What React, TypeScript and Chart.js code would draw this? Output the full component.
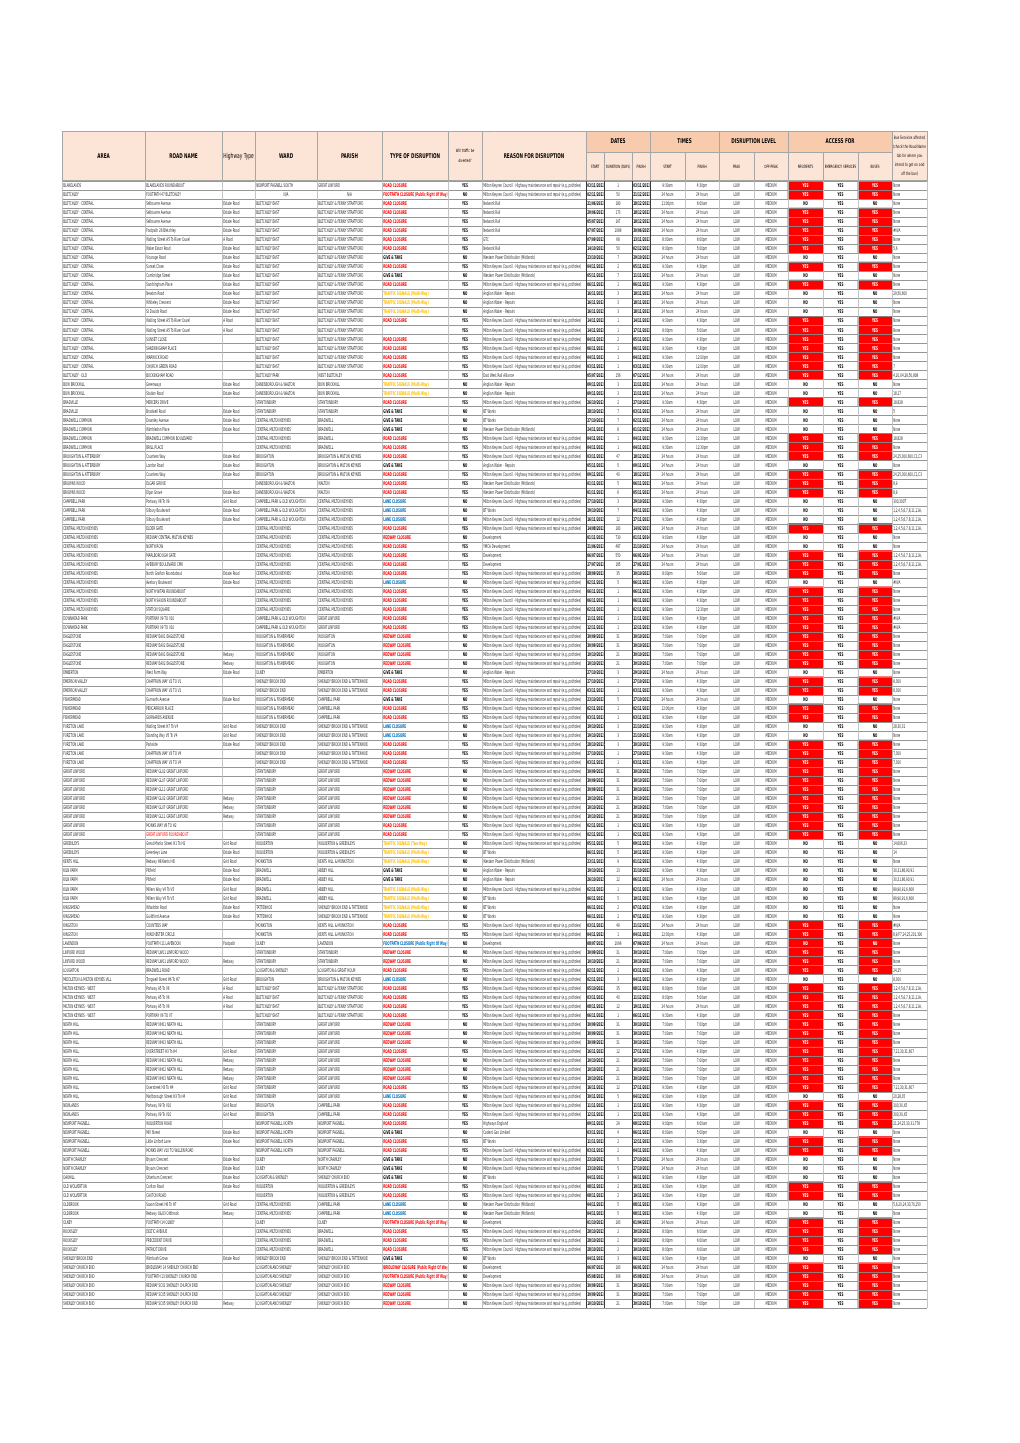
import React, { useEffect, useRef } from "react";
import { Chart, registerables } from "chart.js";

Chart.register(...registerables);

// ---------- repeated text values ----------
const MKC = "Milton Keynes Council - Highway maintenance and repair (e.g. potholes)";
const NR = "Network Rail";
const AW = "Anglian Water - Repairs";
const WPD = "Western Power Distribution (Midlands)";
const BT = "BT Works";
const DEV = "Development";

const RC = "ROAD CLOSURE";
const FC = "FOOTPATH CLOSURE (Public Right Of Way)";
const BWC = "BRIDLEWAY CLOSURE (Public Right Of Way)";
const RW = "REDWAY CLOSURE";
const LC = "LANE CLOSURE";
const TS = "TRAFFIC SIGNALS (Multi-Way)";
const T2 = "TRAFFIC SIGNALS (Two-Way)";
const GT = "GIVE & TAKE";

const E = "Estate Road";
const AR = "A Road";
const GR = "Grid Road";
const RD = "Redway";

const A_BC = "BLETCHLEY - CENTRAL";
const A_CMK = "CENTRAL MILTON KEYNES";

const W_BE = "BLETCHLEY EAST";
const W_DW = "DANESBOROUGH & WALTON";
const W_ST = "STANTONBURY";
const W_BR = "BROUGHTON";
const W_CP = "CAMPBELL PARK & OLD WOUGHTON";
const W_WF = "WOUGHTON & FISHERMEAD";
const W_OL = "OLNEY";
const W_SBE = "SHENLEY BROOK END";
const W_WO = "WOLVERTON";
const W_MO = "MONKSTON";
const W_BRA = "BRADWELL";
const W_TA = "TATTENHOE";
const W_LS = "LOUGHTON & SHENLEY";
const W_NPN = "NEWPORT PAGNELL NORTH";
const W_LAS = "LOUGHTON AND SHENLEY";

const P_BFS = "BLETCHLEY & FENNY STRATFORD";
const P_GL = "GREAT LINFORD";
const P_BMK = "BROUGHTON & MILTON KEYNES";
const P_SBET = "SHENLEY BROOK END & TATTENHOE";
const P_CP = "CAMPBELL PARK";
const P_WG = "WOLVERTON & GREENLEYS";
const P_KHM = "KENTS HILL & MONKSTON";
const P_SCE = "SHENLEY CHURCH END";
const P_BRA = "BRADWELL";

const L1 = "1,2,4,5,6,7,8,11,11A,";

// ---------- data columns ----------
const areas: string[] = [
  "BLAKELANDS", "BLETCHLEY", // 0-1
  A_BC, A_BC, A_BC, A_BC, A_BC, A_BC, A_BC, A_BC, A_BC, A_BC, // 2-11
  A_BC, A_BC, A_BC, A_BC, A_BC, A_BC, A_BC, A_BC, A_BC, // 12-20
  "BLETCHLEY - OLD", "BOW BRICKHILL", "BOW BRICKHILL", "BRADVILLE", "BRADVILLE", // 21-25
  "BRADWELL COMMON", "BRADWELL COMMON", "BRADWELL COMMON", "BRADWELL COMMON", // 26-29
  "BROUGHTON & ATTERBURY", "BROUGHTON & ATTERBURY", "BROUGHTON & ATTERBURY", // 30-32
  "BROWNS WOOD", "BROWNS WOOD", "CAMPBELL PARK", "CAMPBELL PARK", "CAMPBELL PARK", // 33-37
  A_CMK, A_CMK, A_CMK, A_CMK, A_CMK, A_CMK, A_CMK, A_CMK, A_CMK, A_CMK, // 38-47
  "DOWNHEAD PARK", "DOWNHEAD PARK", // 48-49
  "EAGLESTONE", "EAGLESTONE", "EAGLESTONE", "EAGLESTONE", "EMBERTON", // 50-54
  "EMERSON VALLEY", "EMERSON VALLEY", "FISHERMEAD", "FISHERMEAD", "FISHERMEAD", // 55-59
  "FURZTON LAKE", "FURZTON LAKE", "FURZTON LAKE", "FURZTON LAKE", "FURZTON LAKE", // 60-64
  "GREAT LINFORD", "GREAT LINFORD", "GREAT LINFORD", "GREAT LINFORD", // 65-68
  "GREAT LINFORD", "GREAT LINFORD", "GREAT LINFORD", "GREAT LINFORD", // 69-72
  "GREENLEYS", "GREENLEYS", "KENTS HILL", // 73-75
  "KILN FARM", "KILN FARM", "KILN FARM", "KILN FARM", // 76-79
  "KINGSMEAD", "KINGSMEAD", "KINGSTON", "KINGSTON", "LAVENDON", // 80-84
  "LINFORD WOOD", "LINFORD WOOD", "LOUGHTON", "MIDDLETON & MILTON KEYNES VILL", // 85-88
  "MILTON KEYNES - WEST", "MILTON KEYNES - WEST", "MILTON KEYNES - WEST", "MILTON KEYNES - WEST", // 89-92
  "NEATH HILL", "NEATH HILL", "NEATH HILL", "NEATH HILL", "NEATH HILL", // 93-97
  "NEATH HILL", "NEATH HILL", "NEATH HILL", "NEATH HILL", // 98-101
  "NEWLANDS", "NEWLANDS", // 102-103
  "NEWPORT PAGNELL", "NEWPORT PAGNELL", "NEWPORT PAGNELL", "NEWPORT PAGNELL", // 104-107
  "NORTH CRAWLEY", "NORTH CRAWLEY", "OAKHILL", "OLD WOLVERTON", "OLD WOLVERTON", // 108-112
  "OLDBROOK", "OLDBROOK", "OLNEY", "ROOKSLEY", "ROOKSLEY", "ROOKSLEY", // 113-118
  "SHENLEY BROOK END", // 119
  "SHENLEY CHURCH END", "SHENLEY CHURCH END", "SHENLEY CHURCH END", "SHENLEY CHURCH END", "SHENLEY CHURCH END", // 120-124
];

const roadNames: string[] = [
  "BLAKELANDS ROUNDABOUT", "FOOTPATH 47 BLETCHLEY", "Selbourne Avenue", "Selbourne Avenue", "Selbourne Avenue", // 0-4
  "Footpath 26 Bletchley", "Watling Street A5 To River Ouzel", "Water Eaton Road", "Vicarage Road", "Sunset Close", // 5-9
  "Cambridge Street", "Sandringham Place", "Newton Road", "Whiteley Crescent", "St Davids Road", // 10-14
  "Watling Street A5 To River Ouzel", "Watling Street A5 To River Ouzel", "SUNSET CLOSE", "SANDRINGHAM PLACE", "WARWICK ROAD", // 15-19
  "CHURCH GREEN ROAD", "BUCKINGHAM ROAD", "Greenways", "Station Road", "MERCERS DRIVE", // 20-24
  "Bradwell Road", "Downley Avenue", "Wimbledon Place", "BRADWELL COMMON BOULEVARD", "BRILL PLACE", // 25-29
  "Countess Way", "London Road", "Countess Way", "ELGAR GROVE", "Elgar Grove", // 30-34
  "Portway V8 To V9", "Silbury Boulevard", "Silbury Boulevard", "ELDER GATE", "REDWAY CENTRAL MILTON KEYNES", // 35-39
  "NORTH ROW", "MARLBOROUGH GATE", "AVEBURY BOULEVARD CMK", "North Grafton Roundabout", "Avebury Boulevard", // 40-44
  "NORTH WITAN ROUNDABOUT", "NORTH SAXON ROUNDABOUT", "STATION SQUARE", "PORTWAY V9 TO V10", "PORTWAY V9 TO V10", // 45-49
  "REDWAY EA01 EAGLESTONE", "REDWAY EA02 EAGLESTONE", "REDWAY EA01 EAGLESTONE", "REDWAY EA02 EAGLESTONE", "West Farm Way", // 50-54
  "CHAFFRON WAY V2 TO V1", "CHAFFRON WAY V2 TO V1", "Gurnards Avenue", "PENCARROW PLACE", "GURNARDS AVENUE", // 55-59
  "Watling Street H7 To V4", "Standing Way V5 To V4", "Parkside", "CHAFFRON WAY V3 TO V4", "CHAFFRON WAY V3 TO V4", // 60-64
  "REDWAY GL02 GREAT LINFORD", "REDWAY GL07 GREAT LINFORD", "REDWAY GL11 GREAT LINFORD", "REDWAY GL02 GREAT LINFORD", "REDWAY GL07 GREAT LINFORD", // 65-69
  "REDWAY GL11 GREAT LINFORD", "MONKS WAY V8 TO H2", "GREAT LINFORD ROUNDABOUT", "Great Monks Street H1 To H2", "Greenleys Lane", // 70-74
  "Redway H8 Kents Hill", "Pitfield", "Pitfield", "Millers Way V4 To V5", "Millers Way V4 To V5", // 75-79
  "Whaddon Road", "Guildford Avenue", "COUNTESS WAY", "WINCHESTER CIRCLE", "FOOTPATH 11 LAVENDON", // 80-84
  "REDWAY LW01 LINFORD WOOD", "REDWAY LW01 LINFORD WOOD", "BRADWELL ROAD", "Tongwell Street H6 To H7", "Portway A5 To V6", // 85-89
  "Portway A5 To V6", "Portway A5 To V6", "PORTWAY V6 TO V7", "REDWAY NH01 NEATH HILL", "REDWAY NH02 NEATH HILL", // 90-94
  "REDWAY NH03 NEATH HILL", "OVERSTREET H3 To H4", "REDWAY NH01 NEATH HILL", "REDWAY NH02 NEATH HILL", "REDWAY NH03 NEATH HILL", // 95-99
  "Overstreet H3 To H4", "Marlborough Street H3 To H4", "Portway V9 To V10", "Portway V9 To V10", "WOLVERTON ROAD", // 100-104
  "Mill Street", "Little Linford Lane", "MONKS WAY V10 TO WILLEN ROAD", "Bryans Crescent", "Bryans Crescent", // 105-109
  "Otterburn Crescent", "Carlton Road", "CAXTON ROAD", "Saxon Street H6 To H7", "Redway O&O3 Oldbrook", // 110-114
  "FOOTPATH 14 OLNEY", "DELTIC AVENUE", "PRECEDENT DRIVE", "PATRIOT DRIVE", "Wimbush Grove", // 115-119
  "BRIDLEWAY 14 SHENLEY CHURCH END", "FOOTPATH 13 SHENLEY CHURCH END", "REDWAY SC01 SHENLEY CHURCH END", "REDWAY SC05 SHENLEY CHURCH END", "REDWAY SC05 SHENLEY CHURCH END", // 120-124
];

const highwayTypes: string[] = [
  "", "", E, E, E, E, AR, E, E, E, // 0-9
  E, E, E, E, E, AR, AR, "", "", "", // 10-19
  "", "", E, E, "", E, E, E, "", "", // 20-29
  E, E, E, "", E, GR, E, E, "", "", // 30-39
  "", "", "", E, E, "", "", "", "", "", // 40-49
  "", "", RD, RD, E, "", "", E, "", "", // 50-59
  GR, GR, E, "", "", "", "", "", RD, RD, // 60-69
  RD, "", "", GR, E, GR, E, E, GR, GR, // 70-79
  E, E, "", "", "Footpath", "", RD, "", GR, AR, // 80-89
  AR, AR, "", "", "", "", GR, RD, RD, RD, // 90-99
  GR, GR, GR, GR, "", E, E, "", E, E, // 100-109
  E, E, "", GR, RD, "", "", "", "", E, // 110-119
  "", "", "", "", RD, // 120-124
];

const wards: string[] = [
  "NEWPORT PAGNELL SOUTH", "N/A", // 0-1
  W_BE, W_BE, W_BE, W_BE, W_BE, W_BE, W_BE, W_BE, W_BE, W_BE, // 2-11
  W_BE, W_BE, W_BE, W_BE, W_BE, W_BE, W_BE, W_BE, W_BE, // 12-20
  "BLETCHLEY PARK", W_DW, W_DW, W_ST, W_ST, // 21-25
  A_CMK, A_CMK, A_CMK, A_CMK, W_BR, W_BR, W_BR, W_DW, W_DW, // 26-34
  W_CP, W_CP, W_CP, // 35-37
  A_CMK, A_CMK, A_CMK, A_CMK, A_CMK, A_CMK, A_CMK, A_CMK, A_CMK, A_CMK, // 38-47
  W_CP, W_CP, W_WF, W_WF, W_WF, W_WF, W_OL, W_SBE, W_SBE, W_WF, W_WF, W_WF, // 48-59
  W_SBE, W_SBE, W_SBE, W_SBE, W_SBE, // 60-64
  W_ST, W_ST, W_ST, W_ST, W_ST, W_ST, W_ST, W_ST, // 65-72
  W_WO, W_WO, W_MO, W_BRA, W_BRA, W_BRA, W_BRA, W_TA, W_TA, W_MO, W_MO, W_OL, // 73-84
  W_ST, W_ST, W_LS, W_BR, W_BE, W_BE, W_BE, W_BE, // 85-92
  W_ST, W_ST, W_ST, W_ST, W_ST, W_ST, W_ST, W_ST, W_ST, // 93-101
  W_BR, W_BR, W_NPN, W_NPN, W_NPN, W_NPN, W_OL, W_OL, W_LS, W_WO, W_WO, // 102-112
  A_CMK, A_CMK, W_OL, A_CMK, A_CMK, A_CMK, W_SBE, // 113-119
  W_LAS, W_LAS, W_LAS, W_LAS, W_LAS, // 120-124
];

const parishes: string[] = [
  P_GL, "N/A", // 0-1
  P_BFS, P_BFS, P_BFS, P_BFS, P_BFS, P_BFS, P_BFS, P_BFS, P_BFS, P_BFS, // 2-11
  P_BFS, P_BFS, P_BFS, P_BFS, P_BFS, P_BFS, P_BFS, P_BFS, P_BFS, // 12-20
  "WEST BLETCHLEY", "BOW BRICKHILL", "BOW BRICKHILL", "STANTONBURY", "STANTONBURY", // 21-25
  P_BRA, P_BRA, P_BRA, P_BRA, P_BMK, P_BMK, P_BMK, "WALTON", "WALTON", // 26-34
  A_CMK, A_CMK, A_CMK, // 35-37
  A_CMK, A_CMK, A_CMK, A_CMK, A_CMK, A_CMK, A_CMK, A_CMK, A_CMK, A_CMK, // 38-47
  P_GL, P_GL, "WOUGHTON", "WOUGHTON", "WOUGHTON", "WOUGHTON", "EMBERTON", P_SBET, P_SBET, P_CP, P_CP, P_CP, // 48-59
  P_SBET, P_SBET, P_SBET, P_SBET, P_SBET, // 60-64
  P_GL, P_GL, P_GL, P_GL, P_GL, P_GL, P_GL, P_GL, // 65-72
  P_WG, P_WG, P_KHM, "ABBEY HILL", "ABBEY HILL", "ABBEY HILL", "ABBEY HILL", P_SBET, P_SBET, P_KHM, P_KHM, "LAVENDON", // 73-84
  "STANTONBURY", "STANTONBURY", "LOUGHTON & GREAT HOLM", P_BMK, P_BFS, P_BFS, P_BFS, P_BFS, // 85-92
  P_GL, P_GL, P_GL, P_GL, P_GL, P_GL, P_GL, P_GL, P_GL, // 93-101
  P_CP, P_CP, "NEWPORT PAGNELL", "NEWPORT PAGNELL", "NEWPORT PAGNELL", "NEWPORT PAGNELL", // 102-107
  "NORTH CRAWLEY", "NORTH CRAWLEY", P_SCE, P_WG, P_WG, // 108-112
  P_CP, P_CP, "OLNEY", P_BRA, P_BRA, P_BRA, P_SBET, // 113-119
  P_SCE, P_SCE, P_SCE, P_SCE, P_SCE, // 120-124
];

const disruptionTypes: string[] = [
  RC, FC, RC, RC, RC, RC, RC, RC, GT, RC, // 0-9
  GT, RC, TS, TS, TS, RC, "", RC, RC, RC, // 10-19
  RC, RC, TS, TS, RC, GT, GT, GT, RC, RC, // 20-29
  RC, GT, RC, RC, RC, LC, LC, LC, RC, RW, // 30-39
  RC, RC, RC, RC, LC, RC, RC, RC, RC, RC, // 40-49
  RW, RW, RW, RW, GT, RC, RC, GT, RC, RC, // 50-59
  LC, LC, RC, RC, RC, RW, RW, RW, RW, RW, // 60-69
  RW, RC, RC, T2, TS, TS, GT, GT, TS, TS, // 70-79
  TS, TS, RC, RC, FC, RW, RW, RC, LC, RC, // 80-89
  RC, RC, RC, RW, RW, RW, RC, RW, RW, RW, // 90-99
  RC, LC, RC, RC, RC, GT, RC, RC, GT, GT, // 100-109
  GT, RC, RC, LC, LC, FC, RC, RC, RC, GT, // 110-119
  BWC, FC, RW, RW, RW, // 120-124
];

const divertedCode =
  "YNYYYYYYNY" + "NYNNNYYYYY" + "YYNNYNNNYY" + "YNYYYNNNYN" + "YYYYNYYYYY" + "NNNNNYYNYY" +
  "NNYYYNNNNN" + "NYYNNNNNNN" + "NNYYNNNYNY" + "YYYNNNYNNN" + "YNYYYNYYNN" + "NYYNNNYYYN" + "NNNNN";
const trafficDiverted: string[] = [...divertedCode].map((c) => (c === "Y" ? "YES" : "NO"));

const reasons: string[] = [
  MKC, MKC, NR, NR, NR, NR, "GTC", NR, WPD, MKC, // 0-9
  WPD, MKC, AW, AW, AW, MKC, MKC, MKC, MKC, MKC, // 10-19
  MKC, "East West Rail Alliance", AW, AW, MKC, BT, BT, WPD, MKC, MKC, // 20-29
  MKC, AW, MKC, WPD, WPD, MKC, BT, MKC, MKC, DEV, // 30-39
  "YMCA Development", DEV, DEV, MKC, MKC, MKC, MKC, MKC, MKC, MKC, // 40-49
  MKC, MKC, MKC, MKC, AW, MKC, MKC, MKC, MKC, MKC, // 50-59
  MKC, MKC, MKC, MKC, MKC, MKC, MKC, MKC, MKC, MKC, // 60-69
  MKC, MKC, MKC, MKC, BT, WPD, AW, AW, MKC, BT, // 70-79
  BT, BT, MKC, MKC, DEV, MKC, MKC, MKC, MKC, MKC, // 80-89
  MKC, MKC, MKC, MKC, MKC, MKC, MKC, MKC, MKC, MKC, // 90-99
  MKC, MKC, MKC, MKC, "Highways England", "Cadent Gas Limited", BT, MKC, MKC, MKC, // 100-109
  BT, MKC, MKC, WPD, WPD, DEV, MKC, MKC, MKC, BT, // 110-119
  DEV, DEV, MKC, MKC, MKC, // 120-124
];

const startDates: string[] = [
  "03/11/2022", "02/11/2022", "21/06/2022", "29/06/2022", "05/07/2022", "07/07/2022", "07/09/2022", "14/10/2022", "23/10/2022", "04/11/2022", // 0-9
  "05/11/2022", "06/11/2022", "16/11/2022", "16/11/2022", "16/11/2022", "14/11/2022", "14/11/2022", "04/11/2022", "06/11/2022", "04/11/2022", // 10-19
  "03/11/2022", "05/07/2022", "09/11/2022", "09/11/2022", "26/10/2022", "28/10/2022", "27/10/2022", "24/11/2022", "04/11/2022", "04/11/2022", // 20-29
  "03/11/2022", "05/11/2022", "09/11/2022", "01/11/2022", "01/11/2022", "27/10/2022", "29/10/2022", "16/11/2022", "14/08/2022", "01/11/2022", // 30-39
  "21/06/2022", "06/07/2022", "27/07/2022", "28/09/2022", "02/11/2022", "06/11/2022", "06/11/2022", "02/11/2022", "11/11/2022", "12/11/2022", // 40-49
  "30/09/2022", "30/09/2022", "10/10/2022", "10/10/2022", "27/10/2022", "27/10/2022", "03/11/2022", "23/10/2022", "02/11/2022", "03/11/2022", // 50-59
  "19/10/2022", "19/10/2022", "28/10/2022", "27/10/2022", "03/11/2022", "30/09/2022", "30/09/2022", "30/09/2022", "10/10/2022", "10/10/2022", // 60-69
  "10/10/2022", "02/11/2022", "02/11/2022", "05/11/2022", "06/11/2022", "23/11/2022", "19/10/2022", "26/10/2022", "02/11/2022", "06/11/2022", // 70-79
  "06/11/2022", "06/11/2022", "03/11/2022", "04/11/2022", "08/07/2022", "30/09/2022", "10/10/2022", "02/11/2022", "02/11/2022", "05/10/2022", // 80-89
  "03/11/2022", "08/11/2022", "06/11/2022", "30/09/2022", "30/09/2022", "30/09/2022", "16/11/2022", "10/10/2022", "10/10/2022", "10/10/2022", // 90-99
  "16/11/2022", "30/11/2022", "11/11/2022", "12/11/2022", "09/11/2022", "03/11/2022", "11/11/2022", "03/11/2022", "23/10/2022", "23/10/2022", // 100-109
  "04/11/2022", "08/11/2022", "08/11/2022", "04/11/2022", "04/11/2022", "01/10/2022", "28/10/2022", "28/10/2022", "28/10/2022", "04/11/2022", // 110-119
  "06/07/2022", "05/08/2022", "30/09/2022", "30/09/2022", "10/10/2022", // 120-124
];

const durationDays: number[] = [
  1, 50, 180, 173, 167, 1089, 68, 50, 7, 2, // 0-9
  7, 1, 3, 3, 3, 1, 1, 2, 1, 1, // 10-19
  1, 156, 3, 3, 2, 7, 7, 8, 1, 1, // 20-29
  47, 5, 40, 5, 6, 3, 7, 12, 183, 730, // 30-39
  487, 550, 185, 35, 5, 1, 1, 1, 1, 1, // 40-49
  31, 31, 21, 21, 3, 1, 1, 5, 1, 1, // 50-59
  3, 3, 3, 1, 1, 31, 31, 31, 21, 21, // 60-69
  21, 1, 1, 5, 5, 9, 13, 12, 1, 5, // 70-79
  2, 2, 49, 1, 1096, 31, 21, 2, 3, 35, // 80-89
  40, 12, 1, 31, 31, 31, 12, 21, 21, 21, // 90-99
  12, 5, 1, 1, 29, 4, 2, 2, 5, 5, // 100-109
  3, 2, 2, 5, 5, 183, 2, 2, 2, 3, // 110-119
  183, 366, 31, 31, 21, // 120-124
];

const finishDates: string[] = [
  "03/11/2022", "21/12/2022", "18/12/2022", "18/12/2022", "18/12/2022", "30/06/2025", "13/11/2022", "02/12/2022", "29/10/2022", "05/11/2022", // 0-9
  "11/11/2022", "06/11/2022", "18/11/2022", "18/11/2022", "18/11/2022", "14/11/2022", "17/11/2022", "05/11/2022", "06/11/2022", "04/11/2022", // 10-19
  "03/11/2022", "07/12/2022", "11/11/2022", "11/11/2022", "27/10/2022", "03/11/2022", "02/11/2022", "01/12/2022", "04/11/2022", "04/11/2022", // 20-29
  "18/12/2022", "09/11/2022", "18/12/2022", "06/11/2022", "05/11/2022", "29/10/2022", "04/11/2022", "27/11/2022", "14/02/2023", "01/11/2024", // 30-39
  "21/10/2023", "06/01/2024", "27/01/2023", "30/10/2022", "06/11/2022", "06/11/2022", "06/11/2022", "02/11/2022", "11/11/2022", "12/11/2022", // 40-49
  "30/10/2022", "30/10/2022", "30/10/2022", "30/10/2022", "29/10/2022", "27/10/2022", "03/11/2022", "27/10/2022", "02/11/2022", "03/11/2022", // 50-59
  "21/10/2022", "21/10/2022", "30/10/2022", "27/10/2022", "03/11/2022", "30/10/2022", "30/10/2022", "30/10/2022", "30/10/2022", "30/10/2022", // 60-69
  "30/10/2022", "02/11/2022", "02/11/2022", "09/11/2022", "10/11/2022", "01/12/2022", "31/10/2022", "06/11/2022", "02/11/2022", "10/11/2022", // 70-79
  "07/11/2022", "07/11/2022", "21/12/2022", "04/11/2022", "07/06/2025", "30/10/2022", "30/10/2022", "03/11/2022", "04/11/2022", "08/11/2022", // 80-89
  "11/12/2022", "19/11/2022", "06/11/2022", "30/10/2022", "30/10/2022", "30/10/2022", "27/11/2022", "30/10/2022", "30/10/2022", "30/10/2022", // 90-99
  "27/11/2022", "04/12/2022", "11/11/2022", "12/11/2022", "08/12/2022", "06/11/2022", "12/11/2022", "04/11/2022", "27/10/2022", "27/10/2022", // 100-109
  "06/11/2022", "10/11/2022", "10/11/2022", "08/11/2022", "08/11/2022", "01/04/2023", "30/10/2022", "30/10/2022", "30/10/2022", "06/11/2022", // 110-119
  "06/01/2023", "05/08/2023", "30/10/2022", "30/10/2022", "30/10/2022", // 120-124
];

const H24 = "24 hours";
const startTimes: string[] = [
  "9:30am", H24, "11:00pm", H24, H24, H24, "8:00am", "8:00pm", H24, "9:30am", // 0-9
  H24, "9:30am", H24, H24, H24, "9:30am", "8:00pm", "9:30am", "9:30am", "9:30am", // 10-19
  "9:30am", H24, H24, H24, "9:30am", H24, H24, H24, "9:30am", "9:30am", // 20-29
  H24, H24, H24, H24, H24, "9:30am", "9:30am", "9:30am", H24, "9:00am", // 30-39
  H24, H24, H24, "8:00pm", "9:30am", "9:30am", "9:30am", "9:30am", "9:30am", "9:30am", // 40-49
  "7:00am", "7:00am", "7:00am", "7:00am", H24, "9:30am", "9:30am", H24, "12:00pm", "9:30am", // 50-59
  "9:30am", "9:30am", "9:30am", "9:30am", "9:30am", "7:00am", "7:00am", "7:00am", "7:00am", "7:00am", // 60-69
  "7:00am", "9:30am", "9:30am", "9:30am", "9:30am", "9:30am", "9:30am", H24, "9:30am", "9:30am", // 70-79
  "9:30am", "9:30am", H24, "12:30pm", H24, "7:00am", "7:00am", "9:30am", "9:30am", "8:00pm", // 80-89
  "8:00pm", H24, "9:30am", "7:00am", "7:00am", "7:00am", "9:30am", "7:00am", "7:00am", "7:00am", // 90-99
  "9:30am", "9:30am", "9:30am", "9:30am", "9:00pm", "8:00am", "9:30am", "9:30am", H24, H24, // 100-109
  "9:30am", "9:30am", "9:30am", "9:30am", "9:30am", H24, "8:00pm", "8:00pm", "8:00pm", "9:30am", // 110-119
  H24, H24, "7:00am", "7:00am", "7:00am", // 120-124
];

const finishTimes: string[] = [
  "4:30pm", H24, "6:00am", H24, H24, H24, "6:00pm", "5:00pm", H24, "4:30pm", // 0-9
  H24, "4:30pm", H24, H24, H24, "4:30pm", "5:00am", "4:30pm", "4:30pm", "12:00pm", // 10-19
  "12:00pm", H24, H24, H24, "4:30pm", H24, H24, H24, "12:30pm", "12:30pm", // 20-29
  H24, H24, H24, H24, H24, "4:30pm", "4:30pm", "4:30pm", H24, "4:30pm", // 30-39
  H24, H24, H24, "5:00am", "4:30pm", "4:30pm", "4:30pm", "12:30pm", "4:30pm", "4:30pm", // 40-49
  "7:00pm", "7:00pm", "7:00pm", "7:00pm", H24, "4:30pm", "4:30pm", H24, "4:30pm", "4:30pm", // 50-59
  "4:30pm", "4:30pm", "4:30pm", "4:30pm", "4:30pm", "7:00pm", "7:00pm", "7:00pm", "7:00pm", "7:00pm", // 60-69
  "7:00pm", "4:30pm", "4:30pm", "4:30pm", "4:30pm", "4:30pm", "4:30pm", H24, "4:30pm", "4:30pm", // 70-79
  "4:30pm", "4:30pm", H24, "4:30pm", H24, "7:00pm", "7:00pm", "4:30pm", "4:30pm", "5:00am", // 80-89
  "5:00am", H24, "4:30pm", "7:00pm", "7:00pm", "7:00pm", "4:30pm", "7:00pm", "7:00pm", "7:00pm", // 90-99
  "4:30pm", "4:30pm", "4:30pm", "4:30pm", "6:00am", "5:00pm", "3:30pm", "4:30pm", H24, H24, // 100-109
  "4:30pm", "4:30pm", "4:30pm", "4:30pm", "4:30pm", H24, "6:00am", "6:00am", "6:00am", "4:30pm", // 110-119
  H24, H24, "7:00pm", "7:00pm", "7:00pm", // 120-124
];

// every row of the sheet reads LOW / MEDIUM / YES in these three columns
const peakLevels: string[] = areas.map(() => "LOW");
const offPeakLevels: string[] = areas.map(() => "MEDIUM");
const emergencyAccess: string[] = areas.map(() => "YES");

const residentsCode =
  "YYNYYYYYNY" + "NYNNNYYYYY" + "YYNNYNNNYY" + "YNYYYNNNYN" + "NYYYNYYYYY" + "YYYYNYYNYY" +
  "NNYYYYYYYY" + "YYYNNNNNNN" + "NNYYNYYYNY" + "YYYYYYYYYY" + "YNYYYNYYNN" + "NYYNNYYYYN" + "YYYYY";
const residentsAccess: string[] = [...residentsCode].map((c) => (c === "Y" ? "YES" : "NO"));

const busesCode =
  "YYNYYYYYNY" + "NYNNNYYYYY" + "YYNNYNNNYY" + "YNYYYNNNYN" + "NYYYNYYYYY" + "YYYYNYYNYY" +
  "NNYYYYYYYY" + "YYYNNNNNNN" + "NNYYNYYYNY" + "YYYYYYYYYY" + "YNYYYNYYNN" + "NYYNNYYYYN" + "YYYYY";
const busesAccess: string[] = [...busesCode].map((c) => (c === "Y" ? "YES" : "NO"));

const busServices: string[] = [
  "None", "None", "None", "None", "None", "#N/A", "None", "5,6", "None", "None", // 0-9
  "None", "None", "29,50,600", "None", "None", "None", "None", "None", "None", "None", // 10-19
  "7", "4,20,X4,28,50,808", "None", "18,17", "18,828", "5", "None", "None", "18,828", "None", // 20-29
  "24,25,300,600,C1,C3", "None", "24,25,300,600,C1,C3", "8,9", "8,9", "300,300T", L1, L1, L1, "None", // 30-39
  "None", L1, L1, "None", "#N/A", "None", "None", "None", "#N/A", "#N/A", // 40-49
  "None", "None", "None", "None", "None", "8,300", "8,300", "None", "None", "None", // 50-59
  "28,30,31", "None", "None", "7,300", "7,300", "None", "None", "None", "None", "None", // 60-69
  "None", "None", "None", "14,606,33", "14", "None", "30,31,86,90,91", "30,31,86,90,91", "89,90,91,6,606", "89,90,91,6,606", // 70-79
  "None", "None", "#N/A", "8,9,F7,24,25,201,300", "None", "None", "None", "24,25", "8,300", L1, // 80-89
  L1, L1, "None", "None", "None", "None", "7,21,30,31,607", "None", "None", "None", // 90-99
  "7,21,30,31,607", "20,28,35", "300,3X,X5", "300,3X,X5", "21,24,25,30,31,778", "None", "None", "None", "None", "None", // 100-109
  "None", "None", "None", "5,6,20,24,30,70,150", "None", "None", "None", "None", "None", "None", // 110-119
  "None", "None", "None", "None", "None", // 120-124
];

// ---------- layout & style (not data) ----------
const COL_WIDTHS = [83, 77, 33, 62, 65, 66, 34, 104, 18, 28, 18, 35, 34, 35, 34, 35, 35, 34, 35];
const COL_EDGES: number[] = COL_WIDTHS.reduce((acc: number[], w) => [...acc, acc[acc.length - 1] + w], [0]);
const TABLE_W = COL_EDGES[COL_EDGES.length - 1];
const HEADER_H = 50;
const GROUP_H = 21;
const SX_BODY = 0.58;
const SX_HEAD = 0.7;
const FONT = '"Liberation Sans Narrow", "Arial Narrow", "DejaVu Sans Condensed", sans-serif';
const LIGHT = "#FCE4D6";
const DARK = "#F8CBAD";
const RED = "#FF0000";
const RES_COL = 15;
const BUS_COL = 17;
const redNoRows = [84];
const blueTypeRows = [84];
const redRoadRows = [72];
const DARK_EDGES = [8, 9, 10, 11];

function typeColor(t: string, r: number) {
  if (blueTypeRows.includes(r)) return "#0070C0";
  if (t === LC) return "#0070C0";
  if (t === TS || t === T2) return "#FFC000";
  if (t === GT) return "#000000";
  return RED;
}

function isRed(r: number, col: number) {
  const v = col === RES_COL ? residentsAccess[r] : busesAccess[r];
  return v === "YES" || redNoRows.includes(r);
}

type Col = { get: (r: number) => string; align: CanvasTextAlign; bold?: boolean; color?: (r: number) => string };
const BODY_TEXT = "#2b2b2b";
const COLS: Col[] = [
  { get: (r) => areas[r], align: "left" },
  { get: (r) => roadNames[r], align: "left", color: (r) => (redRoadRows.includes(r) ? RED : BODY_TEXT) },
  { get: (r) => highwayTypes[r], align: "left" },
  { get: (r) => wards[r], align: "left" },
  { get: (r) => parishes[r], align: "left" },
  { get: (r) => disruptionTypes[r], align: "left", bold: true, color: (r) => typeColor(disruptionTypes[r], r) },
  { get: (r) => trafficDiverted[r], align: "center", bold: true, color: () => "#000" },
  { get: (r) => reasons[r], align: "left" },
  { get: (r) => startDates[r], align: "left", bold: true, color: () => "#000" },
  { get: (r) => String(durationDays[r]), align: "center" },
  { get: (r) => finishDates[r], align: "left", bold: true, color: () => "#000" },
  { get: (r) => startTimes[r], align: "center" },
  { get: (r) => finishTimes[r], align: "center" },
  { get: (r) => peakLevels[r], align: "center" },
  { get: (r) => offPeakLevels[r], align: "center" },
  { get: (r) => residentsAccess[r], align: "center", bold: true, color: (r) => (isRed(r, RES_COL) ? "#FFFFFF" : "#000") },
  { get: (r) => emergencyAccess[r], align: "center", bold: true, color: () => "#000" },
  { get: (r) => busesAccess[r], align: "center", bold: true, color: (r) => (isRed(r, BUS_COL) ? "#FFFFFF" : "#000") },
  { get: (r) => busServices[r], align: "left" },
];

function drawText(
  ctx: CanvasRenderingContext2D, text: string, x0: number, x1: number, yc: number,
  align: CanvasTextAlign, font: string, color: string, clip: boolean, sx: number
) {
  if (!text) return;
  ctx.save();
  if (clip) {
    ctx.beginPath();
    ctx.rect(x0 + 0.5, yc - 8, x1 - x0 - 1, 16);
    ctx.clip();
  }
  ctx.font = font;
  ctx.fillStyle = color;
  ctx.textBaseline = "middle";
  ctx.textAlign = align;
  const ax = align === "left" ? x0 + 1.2 : align === "right" ? x1 - 1.2 : (x0 + x1) / 2;
  ctx.translate(ax, yc);
  ctx.scale(sx, 1);
  ctx.fillText(text, 0, 0);
  ctx.restore();
}

const crisp = (v: number) => Math.round(v) + 0.5;

const tablePlugin = {
  id: "disruptionTable",
  beforeDatasetsDraw(chart: any) {
    const { ctx, chartArea, scales } = chart;
    const xs = scales.x;
    const ex = COL_EDGES.map((v) => xs.getPixelForValue(v));
    const top = chartArea.top - HEADER_H;
    const mid = top + GROUP_H;
    const bottom = chartArea.top;
    ctx.save();
    ctx.fillStyle = LIGHT;
    ctx.fillRect(ex[0], top, ex[19] - ex[0], HEADER_H);
    const groups = [
      { from: 8, to: 10, label: "DATES" },
      { from: 11, to: 12, label: "TIMES" },
      { from: 13, to: 14, label: "DISRUPTION LEVEL" },
      { from: 15, to: 17, label: "ACCESS FOR" },
    ];
    ctx.fillStyle = DARK;
    groups.forEach((g) => ctx.fillRect(ex[g.from], top, ex[g.to + 1] - ex[g.from], GROUP_H));

    ctx.strokeStyle = "#A6A6A6";
    ctx.lineWidth = 1;
    ctx.beginPath();
    ctx.moveTo(ex[0], crisp(top));
    ctx.lineTo(ex[19], crisp(top));
    ctx.moveTo(ex[0], crisp(bottom - 1));
    ctx.lineTo(ex[19], crisp(bottom - 1));
    ctx.moveTo(ex[8], crisp(mid));
    ctx.lineTo(ex[18], crisp(mid));
    for (let i = 0; i <= 19; i++) {
      const inGroupInner = [9, 10, 12, 14, 16, 17].includes(i);
      ctx.moveTo(crisp(ex[i]), inGroupInner ? mid : top);
      ctx.lineTo(crisp(ex[i]), bottom);
    }
    ctx.stroke();

    const bold = (s: number) => `bold ${s}px ${FONT}`;
    const reg = (s: number) => `${s}px ${FONT}`;
    const yc = top + 25;
    const titles: [number, string][] = [
      [0, "AREA"], [1, "ROAD NAME"], [3, "WARD"], [4, "PARISH"], [5, "TYPE OF DISRUPTION"], [7, "REASON FOR DISRUPTION"],
    ];
    titles.forEach(([c, t]) => drawText(ctx, t, ex[c], ex[c + 1], yc, "center", bold(6.6), "#000", false, SX_HEAD));
    drawText(ctx, "Highway Type", ex[2], ex[3], yc, "center", reg(7), "#000", false, SX_HEAD);
    drawText(ctx, "Will traffic be", ex[6], ex[7], top + 19.5, "center", reg(4.4), "#000", false, SX_HEAD);
    drawText(ctx, "diverted?", ex[6], ex[7], top + 29.5, "center", reg(4.4), "#000", false, SX_HEAD);
    groups.forEach((g) => drawText(ctx, g.label, ex[g.from], ex[g.to + 1], top + 10.5, "center", bold(6.6), "#000", false, SX_HEAD));
    const subs = ["START", "DURATION (DAYS)", "FINISH", "START", "FINISH", "PEAK", "OFF-PEAK", "RESIDENTS", "EMERGENCY SERVICES", "BUSES"];
    subs.forEach((s, k) => drawText(ctx, s, ex[8 + k], ex[9 + k], mid + 14.5, "center", reg(4.4), "#000", false, SX_HEAD));
    const busLines = ["Bus Services affected", "(check the Road Name", "tab for where you", "intend to get on and", "off the bus)"];
    busLines.forEach((s, k) => drawText(ctx, s, ex[18], ex[19], top + 6.5 + k * 9, "center", reg(4.6), "#000", false, SX_HEAD));
    ctx.restore();
  },
  afterDatasetsDraw(chart: any) {
    const { ctx, chartArea, scales } = chart;
    const xs = scales.x;
    const ys = scales.y;
    const ex = COL_EDGES.map((v) => xs.getPixelForValue(v));
    const n = areas.length;
    const rowH = (chartArea.bottom - chartArea.top) / n;
    ctx.save();
    ctx.strokeStyle = "#8A8A8A";
    ctx.lineWidth = 0.9;
    ctx.beginPath();
    for (let r = 0; r <= n; r++) {
      const y = r < n ? ys.getPixelForValue(r) - rowH / 2 : chartArea.bottom;
      ctx.moveTo(ex[0], crisp(y));
      ctx.lineTo(ex[19], crisp(y));
    }
    ctx.stroke();
    for (let i = 0; i <= 19; i++) {
      ctx.strokeStyle = DARK_EDGES.includes(i) ? "#3A3A3A" : "#BDBDBD";
      ctx.lineWidth = DARK_EDGES.includes(i) ? 1 : 0.9;
      ctx.beginPath();
      ctx.moveTo(crisp(ex[i]), chartArea.top);
      ctx.lineTo(crisp(ex[i]), chartArea.bottom);
      ctx.stroke();
    }
    for (let r = 0; r < n; r++) {
      const yc = ys.getPixelForValue(r) + 0.4;
      COLS.forEach((c, ci) => {
        const text = c.get(r);
        let align = c.align;
        if ((ci === 3 || ci === 4) && text === "N/A") align = "center";
        const font = `${c.bold ? "bold " : ""}5.2px ${FONT}`;
        const color = c.color ? c.color(r) : BODY_TEXT;
        drawText(ctx, text, ex[ci], ex[ci + 1], yc, align, font, color, true, SX_BODY);
      });
    }
    ctx.restore();
  },
};

export default function App() {
  const ref = useRef<HTMLCanvasElement | null>(null);
  useEffect(() => {
    document.body.style.margin = "0";
    const canvas = ref.current;
    if (!canvas) return;
    const cellBar = (col: number) =>
      areas.map((_, r) => (isRed(r, col) ? [COL_EDGES[col], COL_EDGES[col + 1]] : null));
    const chart = new Chart(canvas, {
      type: "bar",
      data: {
        labels: areas,
        datasets: [
          { label: "Residents", data: cellBar(RES_COL) as any, backgroundColor: RED, borderWidth: 0, barPercentage: 1, categoryPercentage: 1, grouped: false } as any,
          { label: "Buses", data: cellBar(BUS_COL) as any, backgroundColor: RED, borderWidth: 0, barPercentage: 1, categoryPercentage: 1, grouped: false } as any,
        ],
      },
      options: {
        indexAxis: "y",
        responsive: false,
        animation: false,
        events: [],
        layout: { padding: { left: 62, right: 93, top: 181, bottom: 135 } },
        scales: {
          x: { type: "linear", min: 0, max: TABLE_W, display: false },
          y: { type: "category", display: false, offset: true },
        },
        plugins: { legend: { display: false }, tooltip: { enabled: false }, title: { display: false } },
      },
      plugins: [tablePlugin],
    });
    return () => chart.destroy();
  }, []);
  return <canvas ref={ref} width={1020} height={1443} style={{ display: "block" }} />;
}
